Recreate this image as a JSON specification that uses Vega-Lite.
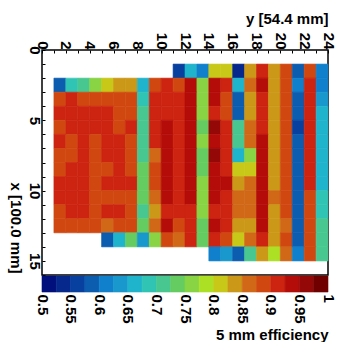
{
  "$schema": "https://vega.github.io/schema/vega-lite/v6.json",
  "padding": {"left": 6, "top": 10, "right": 5, "bottom": 0},
  "spacing": 1,
  "bounds": "flush",
  "config": {
    "font": "Liberation Sans",
    "axis": {"labelFont": "Liberation Sans", "labelFontWeight": "bold", "labelFontSize": 15, "labelColor": "black", "titleFont": "Liberation Sans", "titleFontWeight": "bold", "titleFontSize": 15, "titleColor": "black", "domain": false, "grid": false, "tickColor": "black", "labelFlush": false, "labelOverlap": false}
  },
  "resolve": {"scale": {"color": "independent", "stroke": "independent", "x": "independent"}},
  "vconcat": [
    {
      "width": 286,
      "height": 225,
      "view": {"stroke": "black", "strokeWidth": 1.5},
      "data": {"values": [
        {"r":1,"c":11,"e":0.56},{"r":1,"c":12,"e":0.66},{"r":1,"c":13,"e":0.61},{"r":1,"c":14,"e":0.81},{"r":1,"c":15,"e":0.81},{"r":1,"c":16,"e":0.54},{"r":1,"c":17,"e":0.84},{"r":1,"c":18,"e":0.91},{"r":1,"c":19,"e":0.84},{"r":1,"c":20,"e":0.89},{"r":1,"c":21,"e":0.59},{"r":1,"c":22,"e":0.89},{"r":1,"c":23,"e":0.61},
        {"r":2,"c":1,"e":0.59},{"r":2,"c":2,"e":0.69},{"r":2,"c":3,"e":0.71},{"r":2,"c":4,"e":0.76},{"r":2,"c":5,"e":0.81},{"r":2,"c":6,"e":0.84},{"r":2,"c":7,"e":0.84},{"r":2,"c":8,"e":0.66},{"r":2,"c":9,"e":0.89},{"r":2,"c":10,"e":0.91},{"r":2,"c":11,"e":0.89},{"r":2,"c":12,"e":0.94},{"r":2,"c":13,"e":0.76},{"r":2,"c":14,"e":0.94},{"r":2,"c":15,"e":0.91},{"r":2,"c":16,"e":0.66},{"r":2,"c":17,"e":0.86},{"r":2,"c":18,"e":0.94},{"r":2,"c":19,"e":0.84},{"r":2,"c":20,"e":0.89},{"r":2,"c":21,"e":0.61},{"r":2,"c":22,"e":0.91},{"r":2,"c":23,"e":0.61},
        {"r":3,"c":1,"e":0.89},{"r":3,"c":2,"e":0.91},{"r":3,"c":3,"e":0.89},{"r":3,"c":4,"e":0.89},{"r":3,"c":5,"e":0.89},{"r":3,"c":6,"e":0.89},{"r":3,"c":7,"e":0.89},{"r":3,"c":8,"e":0.69},{"r":3,"c":9,"e":0.91},{"r":3,"c":10,"e":0.91},{"r":3,"c":11,"e":0.91},{"r":3,"c":12,"e":0.94},{"r":3,"c":13,"e":0.76},{"r":3,"c":14,"e":0.94},{"r":3,"c":15,"e":0.89},{"r":3,"c":16,"e":0.59},{"r":3,"c":17,"e":0.84},{"r":3,"c":18,"e":0.91},{"r":3,"c":19,"e":0.84},{"r":3,"c":20,"e":0.89},{"r":3,"c":21,"e":0.59},{"r":3,"c":22,"e":0.91},{"r":3,"c":23,"e":0.64},
        {"r":4,"c":1,"e":0.91},{"r":4,"c":2,"e":0.91},{"r":4,"c":3,"e":0.91},{"r":4,"c":4,"e":0.91},{"r":4,"c":5,"e":0.91},{"r":4,"c":6,"e":0.89},{"r":4,"c":7,"e":0.89},{"r":4,"c":8,"e":0.71},{"r":4,"c":9,"e":0.91},{"r":4,"c":10,"e":0.91},{"r":4,"c":11,"e":0.91},{"r":4,"c":12,"e":0.94},{"r":4,"c":13,"e":0.76},{"r":4,"c":14,"e":0.91},{"r":4,"c":15,"e":0.89},{"r":4,"c":16,"e":0.59},{"r":4,"c":17,"e":0.84},{"r":4,"c":18,"e":0.91},{"r":4,"c":19,"e":0.84},{"r":4,"c":20,"e":0.89},{"r":4,"c":21,"e":0.59},{"r":4,"c":22,"e":0.91},{"r":4,"c":23,"e":0.66},
        {"r":5,"c":1,"e":0.89},{"r":5,"c":2,"e":0.91},{"r":5,"c":3,"e":0.91},{"r":5,"c":4,"e":0.91},{"r":5,"c":5,"e":0.91},{"r":5,"c":6,"e":0.89},{"r":5,"c":7,"e":0.91},{"r":5,"c":8,"e":0.71},{"r":5,"c":9,"e":0.91},{"r":5,"c":10,"e":0.94},{"r":5,"c":11,"e":0.91},{"r":5,"c":12,"e":0.94},{"r":5,"c":13,"e":0.74},{"r":5,"c":14,"e":0.96},{"r":5,"c":15,"e":0.91},{"r":5,"c":16,"e":0.71},{"r":5,"c":17,"e":0.86},{"r":5,"c":18,"e":0.91},{"r":5,"c":19,"e":0.84},{"r":5,"c":20,"e":0.89},{"r":5,"c":21,"e":0.56},{"r":5,"c":22,"e":0.91},{"r":5,"c":23,"e":0.66},
        {"r":6,"c":1,"e":0.91},{"r":6,"c":2,"e":0.89},{"r":6,"c":3,"e":0.91},{"r":6,"c":4,"e":0.89},{"r":6,"c":5,"e":0.91},{"r":6,"c":6,"e":0.91},{"r":6,"c":7,"e":0.89},{"r":6,"c":8,"e":0.71},{"r":6,"c":9,"e":0.91},{"r":6,"c":10,"e":0.94},{"r":6,"c":11,"e":0.91},{"r":6,"c":12,"e":0.94},{"r":6,"c":13,"e":0.76},{"r":6,"c":14,"e":0.94},{"r":6,"c":15,"e":0.91},{"r":6,"c":16,"e":0.71},{"r":6,"c":17,"e":0.86},{"r":6,"c":18,"e":0.94},{"r":6,"c":19,"e":0.84},{"r":6,"c":20,"e":0.89},{"r":6,"c":21,"e":0.59},{"r":6,"c":22,"e":0.91},{"r":6,"c":23,"e":0.66},
        {"r":7,"c":1,"e":0.89},{"r":7,"c":2,"e":0.89},{"r":7,"c":3,"e":0.91},{"r":7,"c":4,"e":0.89},{"r":7,"c":5,"e":0.91},{"r":7,"c":6,"e":0.91},{"r":7,"c":7,"e":0.89},{"r":7,"c":8,"e":0.71},{"r":7,"c":9,"e":0.86},{"r":7,"c":10,"e":0.94},{"r":7,"c":11,"e":0.91},{"r":7,"c":12,"e":0.94},{"r":7,"c":13,"e":0.74},{"r":7,"c":14,"e":0.96},{"r":7,"c":15,"e":0.91},{"r":7,"c":16,"e":0.66},{"r":7,"c":17,"e":0.76},{"r":7,"c":18,"e":0.94},{"r":7,"c":19,"e":0.84},{"r":7,"c":20,"e":0.89},{"r":7,"c":21,"e":0.59},{"r":7,"c":22,"e":0.91},{"r":7,"c":23,"e":0.66},
        {"r":8,"c":1,"e":0.89},{"r":8,"c":2,"e":0.91},{"r":8,"c":3,"e":0.91},{"r":8,"c":4,"e":0.89},{"r":8,"c":5,"e":0.89},{"r":8,"c":6,"e":0.91},{"r":8,"c":7,"e":0.89},{"r":8,"c":8,"e":0.74},{"r":8,"c":9,"e":0.89},{"r":8,"c":10,"e":0.94},{"r":8,"c":11,"e":0.91},{"r":8,"c":12,"e":0.94},{"r":8,"c":13,"e":0.74},{"r":8,"c":14,"e":0.94},{"r":8,"c":15,"e":0.91},{"r":8,"c":16,"e":0.81},{"r":8,"c":17,"e":0.81},{"r":8,"c":18,"e":0.94},{"r":8,"c":19,"e":0.84},{"r":8,"c":20,"e":0.89},{"r":8,"c":21,"e":0.59},{"r":8,"c":22,"e":0.91},{"r":8,"c":23,"e":0.66},
        {"r":9,"c":1,"e":0.91},{"r":9,"c":2,"e":0.91},{"r":9,"c":3,"e":0.91},{"r":9,"c":4,"e":0.89},{"r":9,"c":5,"e":0.91},{"r":9,"c":6,"e":0.91},{"r":9,"c":7,"e":0.91},{"r":9,"c":8,"e":0.74},{"r":9,"c":9,"e":0.89},{"r":9,"c":10,"e":0.94},{"r":9,"c":11,"e":0.91},{"r":9,"c":12,"e":0.94},{"r":9,"c":13,"e":0.76},{"r":9,"c":14,"e":0.94},{"r":9,"c":15,"e":0.94},{"r":9,"c":16,"e":0.84},{"r":9,"c":17,"e":0.86},{"r":9,"c":18,"e":0.94},{"r":9,"c":19,"e":0.84},{"r":9,"c":20,"e":0.89},{"r":9,"c":21,"e":0.59},{"r":9,"c":22,"e":0.91},{"r":9,"c":23,"e":0.66},
        {"r":10,"c":1,"e":0.91},{"r":10,"c":2,"e":0.91},{"r":10,"c":3,"e":0.91},{"r":10,"c":4,"e":0.89},{"r":10,"c":5,"e":0.89},{"r":10,"c":6,"e":0.89},{"r":10,"c":7,"e":0.89},{"r":10,"c":8,"e":0.74},{"r":10,"c":9,"e":0.86},{"r":10,"c":10,"e":0.94},{"r":10,"c":11,"e":0.91},{"r":10,"c":12,"e":0.94},{"r":10,"c":13,"e":0.76},{"r":10,"c":14,"e":0.94},{"r":10,"c":15,"e":0.91},{"r":10,"c":16,"e":0.86},{"r":10,"c":17,"e":0.86},{"r":10,"c":18,"e":0.94},{"r":10,"c":19,"e":0.86},{"r":10,"c":20,"e":0.89},{"r":10,"c":21,"e":0.59},{"r":10,"c":22,"e":0.89},{"r":10,"c":23,"e":0.69},
        {"r":11,"c":1,"e":0.89},{"r":11,"c":2,"e":0.91},{"r":11,"c":3,"e":0.91},{"r":11,"c":4,"e":0.89},{"r":11,"c":5,"e":0.91},{"r":11,"c":6,"e":0.91},{"r":11,"c":7,"e":0.89},{"r":11,"c":8,"e":0.71},{"r":11,"c":9,"e":0.84},{"r":11,"c":10,"e":0.91},{"r":11,"c":11,"e":0.91},{"r":11,"c":12,"e":0.91},{"r":11,"c":13,"e":0.76},{"r":11,"c":14,"e":0.91},{"r":11,"c":15,"e":0.91},{"r":11,"c":16,"e":0.86},{"r":11,"c":17,"e":0.86},{"r":11,"c":18,"e":0.94},{"r":11,"c":19,"e":0.84},{"r":11,"c":20,"e":0.89},{"r":11,"c":21,"e":0.59},{"r":11,"c":22,"e":0.89},{"r":11,"c":23,"e":0.69},
        {"r":12,"c":1,"e":0.89},{"r":12,"c":2,"e":0.89},{"r":12,"c":3,"e":0.89},{"r":12,"c":4,"e":0.89},{"r":12,"c":5,"e":0.86},{"r":12,"c":6,"e":0.89},{"r":12,"c":7,"e":0.89},{"r":12,"c":8,"e":0.74},{"r":12,"c":9,"e":0.86},{"r":12,"c":10,"e":0.94},{"r":12,"c":11,"e":0.89},{"r":12,"c":12,"e":0.91},{"r":12,"c":13,"e":0.74},{"r":12,"c":14,"e":0.94},{"r":12,"c":15,"e":0.91},{"r":12,"c":16,"e":0.84},{"r":12,"c":17,"e":0.84},{"r":12,"c":18,"e":0.94},{"r":12,"c":19,"e":0.84},{"r":12,"c":20,"e":0.86},{"r":12,"c":21,"e":0.59},{"r":12,"c":22,"e":0.89},{"r":12,"c":23,"e":0.71},
        {"r":13,"c":5,"e":0.59},{"r":13,"c":6,"e":0.66},{"r":13,"c":7,"e":0.74},{"r":13,"c":8,"e":0.64},{"r":13,"c":9,"e":0.76},{"r":13,"c":10,"e":0.89},{"r":13,"c":11,"e":0.86},{"r":13,"c":12,"e":0.91},{"r":13,"c":13,"e":0.74},{"r":13,"c":14,"e":0.91},{"r":13,"c":15,"e":0.89},{"r":13,"c":16,"e":0.81},{"r":13,"c":17,"e":0.86},{"r":13,"c":18,"e":0.91},{"r":13,"c":19,"e":0.84},{"r":13,"c":20,"e":0.89},{"r":13,"c":21,"e":0.59},{"r":13,"c":22,"e":0.89},{"r":13,"c":23,"e":0.71},
        {"r":14,"c":14,"e":0.61},{"r":14,"c":15,"e":0.64},{"r":14,"c":16,"e":0.59},{"r":14,"c":17,"e":0.71},{"r":14,"c":18,"e":0.84},{"r":14,"c":19,"e":0.79},{"r":14,"c":20,"e":0.86},{"r":14,"c":21,"e":0.61},{"r":14,"c":22,"e":0.89},{"r":14,"c":23,"e":0.71}
      ]},
      "transform": [
        {"calculate": "datum.c + 1", "as": "c2"},
        {"calculate": "datum.r + 1", "as": "r2"}
      ],
      "mark": {"type": "rect", "strokeWidth": 0.6},
      "encoding": {
        "x": {"field": "c", "type": "quantitative",
          "scale": {"domain": [0, 24], "nice": false, "zero": false},
          "axis": {"orient": "top", "title": "y [54.4 mm]", "values": [0,1,2,3,4,5,6,7,8,9,10,11,12,13,14,15,16,17,18,19,20,21,22,23,24],
            "labelExpr": "datum.value % 2 === 0 ? datum.label : ''",
            "labelAngle": 90, "labelAlign": "right", "labelBaseline": "middle", "tickSize": -3, "labelPadding": 4,
            "titleX": 286, "titleY": -27, "titleAlign": "right", "titleAnchor": null, "titleBaseline": "alphabetic"}},
        "x2": {"field": "c2"},
        "y": {"field": "r", "type": "quantitative",
          "scale": {"domain": [0, 16], "nice": false, "zero": false, "reverse": true},
          "axis": {"orient": "left", "title": "x [100.0 mm]", "values": [0,1,2,3,4,5,6,7,8,9,10,11,12,13,14,15,16],
            "labelExpr": "datum.value % 5 === 0 ? datum.label : ''",
            "labelAngle": 90, "labelAlign": "center", "labelBaseline": "top", "tickSize": -3, "labelPadding": 4,
            "titleAngle": 90, "titleX": -32, "titleY": 223, "titleAlign": "right", "titleAnchor": null, "titleBaseline": "alphabetic"}},
        "y2": {"field": "r2"},
        "color": {"field": "e", "type": "quantitative",
          "scale": {"type": "quantize", "domain": [0.5, 1], "nice": false, "zero": false,
            "range": ["#000f7c","#06288c","#0840a0","#0c5cb0","#1080cc","#1898cc","#20b4cc","#30c4b4","#48c890","#64cc60","#88d444","#ace024","#c8c818","#cc9818","#d06818","#d04810","#cc2410","#b40c08","#940808","#700000"]},
          "legend": null},
        "stroke": {"field": "e", "type": "quantitative",
          "scale": {"type": "quantize", "domain": [0.5, 1], "nice": false, "zero": false,
            "range": ["#000f7c","#06288c","#0840a0","#0c5cb0","#1080cc","#1898cc","#20b4cc","#30c4b4","#48c890","#64cc60","#88d444","#ace024","#c8c818","#cc9818","#d06818","#d04810","#cc2410","#b40c08","#940808","#700000"]},
          "legend": null}
      }
    },
    {
      "width": 286,
      "height": 16,
      "view": {"stroke": null},
      "data": {"values": [
        {"e":0.5125},{"e":0.5375},{"e":0.5625},{"e":0.5875},{"e":0.6125},{"e":0.6375},{"e":0.6625},{"e":0.6875},{"e":0.7125},{"e":0.7375},
        {"e":0.7625},{"e":0.7875},{"e":0.8125},{"e":0.8375},{"e":0.8625},{"e":0.8875},{"e":0.9125},{"e":0.9375},{"e":0.9625},{"e":0.9875}
      ]},
      "transform": [
        {"calculate": "datum.e - 0.0125", "as": "lo"},
        {"calculate": "datum.e + 0.0125", "as": "hi"}
      ],
      "mark": {"type": "rect", "strokeWidth": 0.6},
      "encoding": {
        "x": {"field": "lo", "type": "quantitative",
          "scale": {"domain": [0.5, 1], "nice": false, "zero": false},
          "axis": {"orient": "bottom", "title": "5 mm efficiency", "values": [0.5,0.55,0.6,0.65,0.7,0.75,0.8,0.85,0.9,0.95,1],
            "format": "~g", "labelAngle": 90, "labelAlign": "left", "labelBaseline": "middle", "tickSize": 0, "ticks": false, "labelPadding": 2,
            "titleX": 286, "titleY": 47, "titleAlign": "right", "titleAnchor": null, "titleBaseline": "alphabetic"}},
        "x2": {"field": "hi"},
        "color": {"field": "e", "type": "quantitative",
          "scale": {"type": "quantize", "domain": [0.5, 1], "nice": false, "zero": false,
            "range": ["#000f7c","#06288c","#0840a0","#0c5cb0","#1080cc","#1898cc","#20b4cc","#30c4b4","#48c890","#64cc60","#88d444","#ace024","#c8c818","#cc9818","#d06818","#d04810","#cc2410","#b40c08","#940808","#700000"]},
          "legend": null},
        "stroke": {"field": "e", "type": "quantitative",
          "scale": {"type": "quantize", "domain": [0.5, 1], "nice": false, "zero": false,
            "range": ["#000f7c","#06288c","#0840a0","#0c5cb0","#1080cc","#1898cc","#20b4cc","#30c4b4","#48c890","#64cc60","#88d444","#ace024","#c8c818","#cc9818","#d06818","#d04810","#cc2410","#b40c08","#940808","#700000"]},
          "legend": null}
      }
    }
  ]
}
